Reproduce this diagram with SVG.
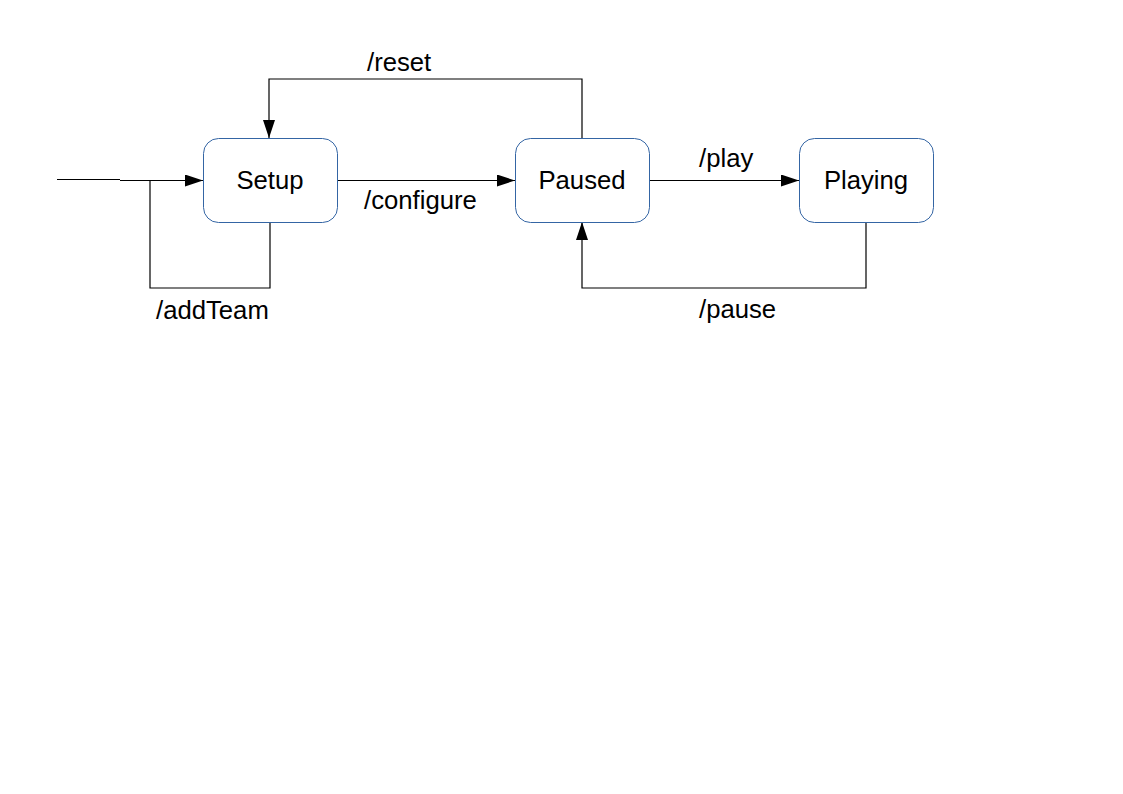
<svg xmlns="http://www.w3.org/2000/svg" width="1123" height="794" viewBox="0 0 1123 794">
<style>
.node rect{fill:#fff;stroke:#3465a4;stroke-width:1}
text{font-family:"Liberation Sans",Arial,sans-serif;font-size:25.7px;fill:#000}
.conn path{fill:none;stroke:#000;stroke-width:1.2}
</style>
<defs>
<marker id="arr" markerWidth="18" markerHeight="12" refX="18" refY="6" orient="auto" markerUnits="userSpaceOnUse">
<path d="M0,0 L18,6 L0,12 Z" fill="#000"/>
</marker>
</defs>
<rect width="1123" height="794" fill="#fff"/>
<g class="conn">
<path d="M57,179.5 H120"/>
<path d="M120,180.5 H203" marker-end="url(#arr)"/>
<path d="M270,222 V288 H150 V180.5"/>
<path d="M337,180.5 H515" marker-end="url(#arr)"/>
<path d="M582,138 V79 H269 V138" marker-end="url(#arr)"/>
<path d="M649,180.5 H799" marker-end="url(#arr)"/>
<path d="M866,222 V288 H582 V222" marker-end="url(#arr)"/>
</g>
<g id="labels">
<text x="367" y="71">/reset</text>
<text x="364" y="209">/configure</text>
<text x="699" y="167">/play</text>
<text x="699" y="318">/pause</text>
<text x="156" y="319">/addTeam</text>
</g>
<g id="setup" class="node"><rect x="203.5" y="138.5" width="134" height="84" rx="15"/><text x="270" y="189" text-anchor="middle">Setup</text></g>
<g id="paused" class="node"><rect x="515.5" y="138.5" width="134" height="84" rx="15"/><text x="582" y="189" text-anchor="middle">Paused</text></g>
<g id="playing" class="node"><rect x="799.5" y="138.5" width="134" height="84" rx="15"/><text x="866" y="189" text-anchor="middle">Playing</text></g>
</svg>
